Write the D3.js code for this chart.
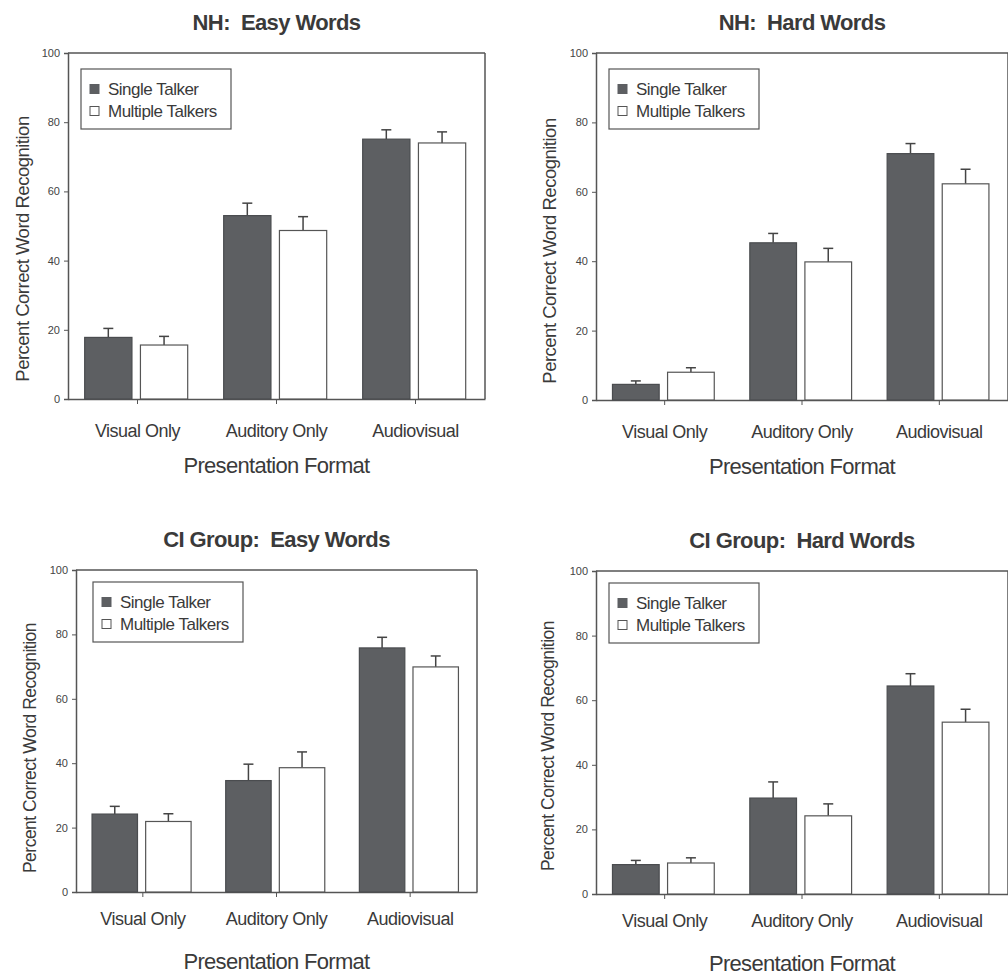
<!DOCTYPE html>
<html>
<head>
<meta charset="utf-8">
<script src="https://cdn.jsdelivr.net/npm/d3@7/dist/d3.min.js"></script>
<style>
  html, body { margin: 0; padding: 0; background: #fff; }
  svg { display: block; }
  text { font-family: "Liberation Sans", Arial, Helvetica, sans-serif; fill: #3a3a3a; white-space: pre; }
</style>
</head>
<body>
<svg id="chart" width="1008" height="978"></svg>
<script>
// ---- data ----
const categories = ["Visual Only", "Auditory Only", "Audiovisual"];
const seriesNames = ["Single Talker", "Multiple Talkers"];
const panelTitles = ["NH:  Easy Words", "NH:  Hard Words", "CI Group:  Easy Words", "CI Group:  Hard Words"];
const yTicks = [0, 20, 40, 60, 80, 100];
const yAxisTitle = "Percent Correct Word Recognition";
const xAxisTitle = "Presentation Format";

const nhEasySingle = [17.8, 53.0, 75.1];
const nhEasySingleErr = [2.6, 3.6, 2.7];
const nhEasyMulti = [15.6, 48.7, 74.0];
const nhEasyMultiErr = [2.5, 4.0, 3.2];

const nhHardSingle = [4.5, 45.3, 71.0];
const nhHardSingleErr = [1.0, 2.7, 2.9];
const nhHardMulti = [8.0, 39.8, 62.3];
const nhHardMultiErr = [1.3, 3.9, 4.2];

const ciEasySingle = [24.2, 34.6, 75.8];
const ciEasySingleErr = [2.4, 5.1, 3.3];
const ciEasyMulti = [21.9, 38.6, 69.9];
const ciEasyMultiErr = [2.4, 4.9, 3.4];

const ciHardSingle = [9.1, 29.7, 64.4];
const ciHardSingleErr = [1.3, 5.0, 3.8];
const ciHardMulti = [9.6, 24.2, 53.2];
const ciHardMultiErr = [1.6, 3.7, 4.0];

const panelData = [
  [[nhEasySingle, nhEasySingleErr], [nhEasyMulti, nhEasyMultiErr]],
  [[nhHardSingle, nhHardSingleErr], [nhHardMulti, nhHardMultiErr]],
  [[ciEasySingle, ciEasySingleErr], [ciEasyMulti, ciEasyMultiErr]],
  [[ciHardSingle, ciHardSingleErr], [ciHardMulti, ciHardMultiErr]]
];

// ---- layout ----
const layouts = [
  {left: 68, top: 53, right: 485, bottom: 399, ylabX: 22, ylabCY: 249, ylabFS: 18.5, legDX: 13, legDY: 16, tickPad: 20, xtitleOff: 74},
  {left: 596, top: 53, right: 1008, bottom: 400, ylabX: 549, ylabCY: 251, ylabFS: 18.5, legDX: 13, legDY: 16, tickPad: 20, xtitleOff: 74},
  {left: 76, top: 570, right: 477, bottom: 892, ylabX: 30, ylabCY: 748, ylabFS: 17.5, legDX: 17, legDY: 12, tickPad: 15, xtitleOff: 77},
  {left: 596, top: 571, right: 1008, bottom: 894, ylabX: 548, ylabCY: 746, ylabFS: 17.5, legDX: 13, legDY: 12, tickPad: 15, xtitleOff: 77}
];

const DARK = "#5d5f62";
const LINE = "#555";
const svg = d3.select("#chart");

panelData.forEach((pd, pi) => {
  const L = layouts[pi];
  const g = svg.append("g");
  const x = d3.scaleBand().domain(categories).range([L.left, L.right]).padding(0);
  const y = d3.scaleLinear().domain([0, 100]).range([L.bottom, L.top]);
  const step = x.bandwidth();
  const barW = step * 0.34;
  const gap = step * 0.08;
  const inner = d3.scaleBand().domain(seriesNames).range([0, 2 * barW + gap]).paddingInner(gap / (2 * barW + gap));

  // frame (top and right)
  g.append("line").attr("x1", L.left).attr("x2", L.right).attr("y1", L.top).attr("y2", L.top)
    .attr("stroke", LINE).attr("stroke-width", 1.5);
  g.append("line").attr("x1", L.right).attr("x2", L.right).attr("y1", L.top).attr("y2", L.bottom)
    .attr("stroke", LINE).attr("stroke-width", 1.5);

  // y axis
  const yAxis = d3.axisLeft(y).tickValues(yTicks).tickSize(4).tickPadding(4);
  const ya = g.append("g").attr("transform", `translate(${L.left},0)`).call(yAxis);
  ya.select(".domain").attr("stroke", LINE).attr("stroke-width", 1.5);
  ya.selectAll(".tick line").attr("stroke", LINE);
  ya.selectAll(".tick text").attr("font-size", 11).attr("fill", "#444").style("fill", "#444")
    .style("font-family", "'Liberation Sans', Arial, sans-serif");

  // x axis
  const xAxis = d3.axisBottom(x).tickSize(5).tickSizeOuter(0).tickPadding(L.tickPad);
  const xa = g.append("g").attr("transform", `translate(0,${L.bottom})`).call(xAxis);
  xa.select(".domain").attr("stroke", LINE).attr("stroke-width", 1.5);
  xa.selectAll(".tick line").attr("stroke", LINE);
  xa.selectAll(".tick text").attr("font-size", 18).style("fill", "#3a3a3a")
    .style("letter-spacing", "-0.5px")
    .style("font-family", "'Liberation Sans', Arial, sans-serif");

  // bars
  pd.forEach((sd, si) => {
    const vals = sd[0], errs = sd[1];
    const rows = categories.map((c, ci) => ({c, v: vals[ci], e: errs[ci]}));
    const bx = d => x(d.c) + (step - (2 * barW + gap)) / 2 + inner(seriesNames[si]);
    g.selectAll(null).data(rows).enter().append("line")
      .attr("x1", d => bx(d) + barW / 2).attr("x2", d => bx(d) + barW / 2)
      .attr("y1", d => y(d.v)).attr("y2", d => y(d.v + d.e))
      .attr("stroke", "#444").attr("stroke-width", 1.5);
    g.selectAll(null).data(rows).enter().append("line")
      .attr("x1", d => bx(d) + barW / 2 - 5).attr("x2", d => bx(d) + barW / 2 + 5)
      .attr("y1", d => y(d.v + d.e)).attr("y2", d => y(d.v + d.e))
      .attr("stroke", "#444").attr("stroke-width", 1.5);
    g.selectAll(null).data(rows).enter().append("rect")
      .attr("x", d => bx(d)).attr("width", barW)
      .attr("y", d => y(d.v)).attr("height", d => y(0) - y(d.v))
      .attr("fill", si === 0 ? DARK : "#fff")
      .attr("stroke", si === 0 ? "#4a4c4f" : "#555")
      .attr("stroke-width", 1.2);
  });

  // legend
  const lx = L.left + L.legDX, ly = L.top + L.legDY;
  g.append("rect").attr("x", lx).attr("y", ly).attr("width", 150).attr("height", 60)
    .attr("fill", "#fff").attr("stroke", LINE).attr("stroke-width", 1.2);
  seriesNames.forEach((s, si) => {
    const cy = ly + 20 + si * 22;
    g.append("rect").attr("x", lx + 9).attr("y", cy - 4.5).attr("width", 9).attr("height", 9)
      .attr("fill", si === 0 ? DARK : "#fff").attr("stroke", si === 0 ? DARK : "#555").attr("stroke-width", 1);
    g.append("text").attr("x", lx + 27).attr("y", cy + 6).attr("font-size", 17)
      .style("letter-spacing", "-0.5px").text(s);
  });

  // titles
  const cx = (L.left + L.right) / 2;
  g.append("text").attr("x", cx).attr("y", L.top - 23).attr("text-anchor", "middle")
    .attr("font-size", 22).attr("font-weight", "bold").style("letter-spacing", "-0.6px")
    .attr("xml:space", "preserve")
    .text(panelTitles[pi]);
  g.append("text").attr("x", cx).attr("y", L.bottom + L.xtitleOff).attr("text-anchor", "middle")
    .attr("font-size", 22).style("letter-spacing", "-0.7px").text(xAxisTitle);
  g.append("text").attr("transform", `translate(${L.ylabX},${L.ylabCY}) rotate(-90)`)
    .attr("text-anchor", "middle").attr("dominant-baseline", "central")
    .attr("font-size", L.ylabFS).style("letter-spacing", "-0.5px").text(yAxisTitle);
});
</script>
</body>
</html>
